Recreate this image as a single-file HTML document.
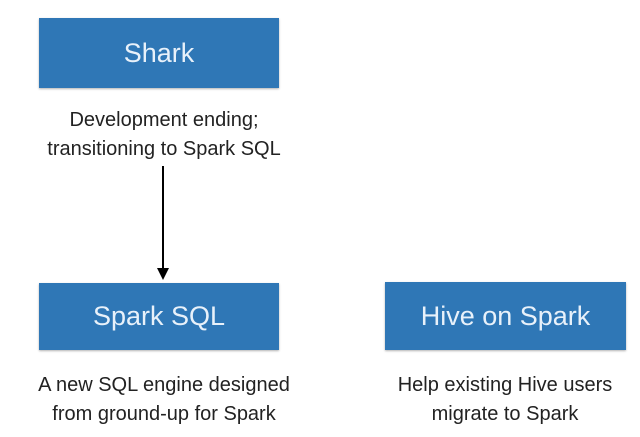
<!DOCTYPE html>
<html><head><meta charset="utf-8"><style>
body{margin:0;width:640px;height:437px;background:#fff;position:relative;overflow:hidden;font-family:"Liberation Sans",sans-serif}
.b{position:absolute;background:#2f77b6;color:#e8f1fa;font-size:27px;display:flex;align-items:center;justify-content:center;box-shadow:0 1px 2px rgba(0,0,0,.3)}
.t{position:absolute;color:#222;font-size:20px;text-align:center;line-height:29px}
</style></head><body>
<div class="b" style="left:39px;top:18px;width:240px;height:70px">Shark</div>
<div class="t" style="left:9px;top:106px;width:310px">Development ending;<br>transitioning to Spark SQL</div>
<svg style="position:absolute;left:0;top:0" width="640" height="437"><line x1="163" y1="166" x2="163" y2="270" stroke="#000" stroke-width="2"/><polygon points="157,268 169,268 163,280" fill="#000"/></svg>
<div class="b" style="left:39px;top:283px;width:240px;height:67px">Spark SQL</div>
<div class="b" style="left:385px;top:282px;width:241px;height:68px">Hive on Spark</div>
<div class="t" style="left:4px;top:371px;width:320px">A new SQL engine designed<br>from ground-up for Spark</div>
<div class="t" style="left:355px;top:371px;width:300px">Help existing Hive users<br>migrate to Spark</div>
</body></html>
